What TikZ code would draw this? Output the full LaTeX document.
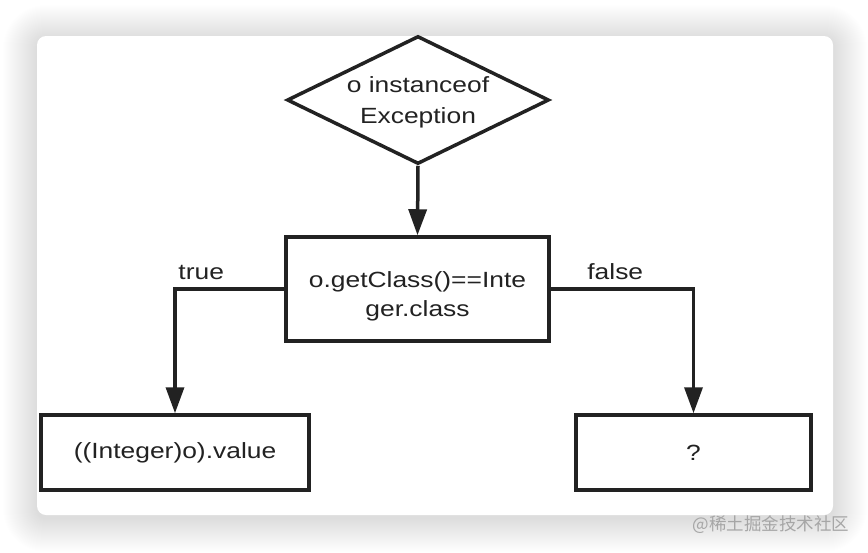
\documentclass[tikz,border=0pt]{standalone}
\usepackage{fontspec}
\setmainfont{Liberation Sans}[FakeStretch=1.2]
\newfontfamily\cjk{Noto Sans CJK SC}
\usetikzlibrary{shapes.geometric,arrows.meta}
\definecolor{ink}{HTML}{222222}

\begin{document}
\begin{tikzpicture}[x=1pt,y=-1pt,
  box/.style={draw=ink, line width=3.5pt, fill=white, inner sep=0pt, text=ink, align=center, font=\fontsize{22}{30}\selectfont},
  flow/.style={draw=ink, line width=3.5pt, -{Triangle[length=26pt,width=18pt]}},
  lbl/.style={text=ink, inner sep=3pt, font=\fontsize{22}{26}\selectfont}]

  \useasboundingbox[fill=white] (0,0) rectangle (868,552);
  \foreach \d in {1,...,34}
    \fill[black, opacity=0.0055, rounded corners=9pt+\d pt] (37-\d,36-\d+3) rectangle (833+\d,515+\d+3);
  \fill[white, rounded corners=9pt] (37,36) rectangle (833,515);

  \node[box, diamond, aspect=2, minimum width=262pt, minimum height=128pt] (isexc) at (418,100) {\rule{0pt}{20pt}o instanceof\\[1pt]Exception};
  \node[box, rectangle, minimum width=263pt, minimum height=104pt] (isint) at (417.5,289) {\rule{0pt}{30pt}o.getClass()==Inte\\[-1pt]ger.class};
  \node[box, rectangle, minimum width=268pt, minimum height=75pt] (value) at (175,452.5) {((Integer)o).value};
  \node[box, rectangle, minimum width=235pt, minimum height=75pt] (unknown) at (693.5,452.5) {?};

  \draw[flow] (isexc.south) -- (isint.north);
  \draw[flow] (isint.west) -| node[lbl, pos=0.38, above=5pt] {true} (value.north);
  \draw[flow] (isint.east) -| node[lbl, pos=0.226, above=5pt] {false} (unknown.north);

  \node[text=black!35, font=\cjk\fontsize{17.5}{20}\selectfont] (mark) at (771,525) {@稀土掘金技术社区};

\end{tikzpicture}
\end{document}
